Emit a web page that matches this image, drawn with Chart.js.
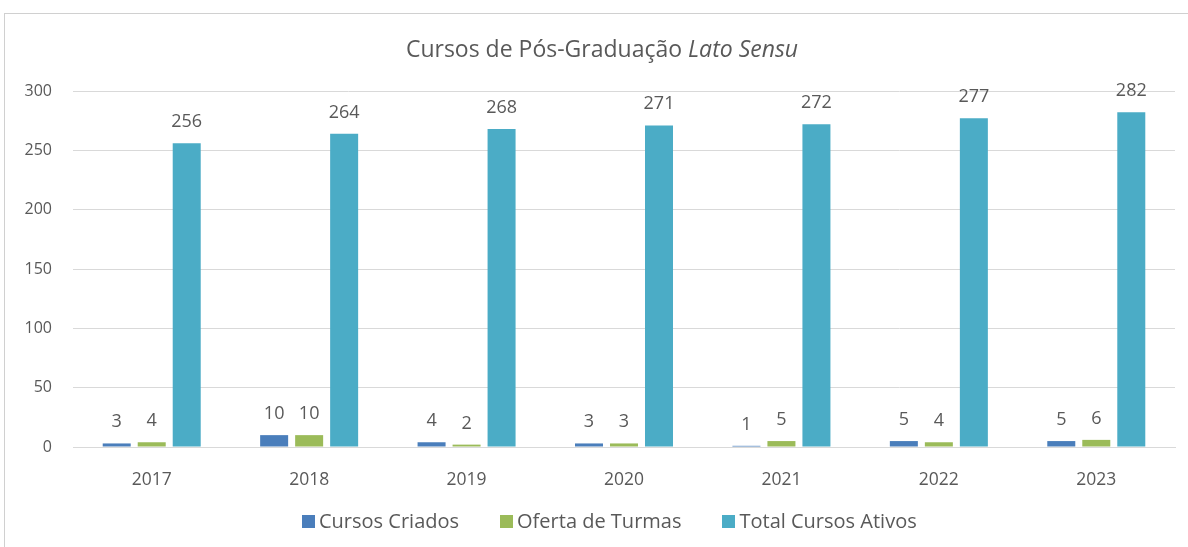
<!DOCTYPE html>
<html>
<head>
<meta charset="utf-8">
<script src="https://cdn.jsdelivr.net/npm/chart.js@4"></script>
<style>
  html, body { margin: 0; padding: 0; background: #fff; }
  #wrap { position: relative; width: 1188px; height: 547px; overflow: hidden; }
  #frame { position: absolute; left: 4px; top: 13px; width: 1200px; height: 560px; border: 1px solid #d0d0d0; box-sizing: border-box; }
  #title { position: absolute; left: 8px; width: 1188px; top: 33px; line-height: 30px; text-align: center; font-family: "Open Sans", sans-serif; font-size: 23px; color: #595959; }
  canvas { position: absolute; left: 0; top: 0; }
  #legend { position: absolute; left: 302px; top: 509px; display: flex; font-family: "Open Sans", sans-serif; font-size: 20px; line-height: 24px; color: #595959; }
  #legend span.item { display: flex; align-items: center; margin-right: 41px; }
  #legend span.box { display: inline-block; width: 13px; height: 13px; margin-right: 4px; }
</style>
</head>
<body>
<div id="wrap">
  <div id="frame"></div>
  <canvas id="chart" width="1188" height="547"></canvas>
  <div id="title">Cursos de Pós-Graduação <i>Lato Sensu</i></div>
  <div id="legend"></div>
</div>
<script>
const years = ["2017", "2018", "2019", "2020", "2021", "2022", "2023"];
const cursosCriados = [3, 10, 4, 3, 1, 5, 5];
const ofertaTurmas = [4, 10, 2, 3, 5, 4, 6];
const totalAtivos = [256, 264, 268, 271, 272, 277, 282];
const yTicks = [0, 50, 100, 150, 200, 250, 300];

const FONT = "'Open Sans', sans-serif";
const GRAY = "#595959";

// draws the value above each bar
const barLabels = {
  id: "barLabels",
  afterDatasetsDraw(chart) {
    const ctx = chart.ctx;
    ctx.save();
    ctx.font = "18px " + FONT;
    ctx.fillStyle = GRAY;
    ctx.textAlign = "center";
    ctx.textBaseline = "alphabetic";
    chart.data.datasets.forEach((ds, i) => {
      chart.getDatasetMeta(i).data.forEach((bar, j) => {
        ctx.fillText(ds.data[j], bar.x, bar.y - 16);
      });
    });
    ctx.restore();
  }
};

const chart = new Chart(document.getElementById("chart"), {
  type: "bar",
  data: {
    labels: years,
    datasets: [
      { label: "Cursos Criados", data: cursosCriados, backgroundColor: "#4a7ebb" },
      { label: "Oferta de Turmas", data: ofertaTurmas, backgroundColor: "#9bbb59" },
      { label: "Total Cursos Ativos", data: totalAtivos, backgroundColor: "#4bacc6" },
    ],
  },
  options: {
    responsive: false,
    animation: false,
    layout: { padding: { top: 91, left: 0, right: 13, bottom: 50 } },
    datasets: { bar: { categoryPercentage: 0.667, barPercentage: 0.8 } },
    plugins: {
      title: { display: false },
      tooltip: { enabled: false },
      legend: { display: false },
    },
    scales: {
      x: {
        afterFit: (axis) => { axis.height = 50; },
        grid: { display: false },
        border: { color: "#d9d9d9" },
        ticks: { font: { family: FONT, size: 17.5 }, color: GRAY, padding: 15 },
      },
      y: {
        min: 0,
        max: 300,
        afterFit: (axis) => { axis.width = 73; },
        afterBuildTicks: (axis) => { axis.ticks = yTicks.map((v) => ({ value: v })); },
        grid: { color: "#d9d9d9", drawTicks: false },
        border: { display: false },
        ticks: { font: { family: FONT, size: 16 }, color: GRAY, padding: 21 },
      },
    },
  },
  plugins: [barLabels],
});

// legend in html, built from the datasets
const legend = document.getElementById("legend");
chart.data.datasets.forEach((ds) => {
  const item = document.createElement("span");
  item.className = "item";
  const box = document.createElement("span");
  box.className = "box";
  box.style.background = ds.backgroundColor;
  item.appendChild(box);
  item.appendChild(document.createTextNode(ds.label));
  legend.appendChild(item);
});
</script>
</body>
</html>
